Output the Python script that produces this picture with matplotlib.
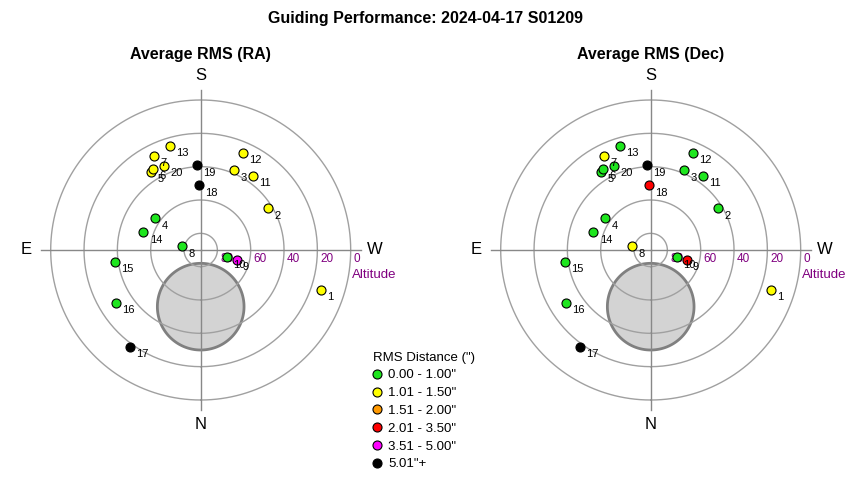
import numpy as np
import matplotlib
matplotlib.use("Agg")
import matplotlib.pyplot as plt
from matplotlib.lines import Line2D

plt.rcParams['font.family'] = ['Liberation Sans', 'DejaVu Sans']

# ---------------- data ----------------
frame_ids = list(range(1, 21))
altitude = [14.0, 42.3, 38.1, 56.8, 34.5, 33.5, 27.0, 78.7, 67.6, 73.8,
            35.7, 26.4, 25.0, 54.0, 37.9, 29.9, 18.1, 51.2, 39.1, 35.1]
azimuth = [288.4, 238.3, 202.9, 124.9, 147.5, 149.8, 153.6, 101.4, 285.5, 285.7,
           215.1, 203.3, 163.6, 107.1, 82.3, 58.1, 36.2, 178.5, 177.7, 156.6]
rms_ra = [1.22, 1.31, 1.18, 0.86, 1.05, 1.09, 1.27, 0.74, 4.12, 0.91,
          1.14, 1.36, 1.21, 0.83, 0.95, 0.88, 5.84, 6.37, 5.52, 1.12]
rms_dec = [1.08, 0.71, 0.64, 0.58, 0.92, 0.87, 1.12, 1.03, 2.46, 0.69,
           0.77, 0.62, 0.81, 0.55, 0.73, 0.66, 5.21, 2.93, 5.67, 0.84]

bin_upper = [1.00, 1.50, 2.00, 3.50, 5.00, np.inf]
bin_labels = ['0.00 - 1.00"', '1.01 - 1.50"', '1.51 - 2.00"',
              '2.01 - 3.50"', '3.51 - 5.00"', '5.01"+']
bin_colors = ['#1ee61e', '#ffff00', '#ff9900', '#ff0000', '#ff00ff', '#000000']

alt_rings = [80, 60, 40, 20, 0]
compass = {'S': 180, 'N': 0, 'E': 90, 'W': 270}
moon_alt, moon_az, moon_radius = 56.0, 0.0, 26.0

title_main = 'Guiding Performance: 2024-04-17 S01209'
panel_titles = ['Average RMS (RA)', 'Average RMS (Dec)']
legend_title = 'RMS Distance (")'


def color_for(v):
    for up, c in zip(bin_upper, bin_colors):
        if v <= up:
            return c
    return bin_colors[-1]


W, H = 850, 480
fig = plt.figure(figsize=(W / 100, H / 100), dpi=100)

centers_px = [(200.7, 250.0), (650.7, 250.0)]
R_px = 150.0


def draw_panel(cx, cy, values, title):
    ax = fig.add_axes([(cx - R_px) / W, (H - cy - R_px) / H, 2 * R_px / W, 2 * R_px / H],
                      projection='polar')
    ax.set_theta_zero_location('S')
    ax.set_theta_direction(-1)
    ax.set_ylim(0, 90)
    ax.set_axis_off()

    # moon / obstruction disc
    zc = 90 - moon_alt
    X0 = zc * np.sin(np.radians(moon_az))
    Y0 = zc * np.cos(np.radians(moon_az))
    t = np.linspace(0, 2 * np.pi, 400)
    Xs = X0 + moon_radius * np.cos(t)
    Ys = Y0 + moon_radius * np.sin(t)
    th = np.unwrap(np.arctan2(Xs, Ys))
    rr = np.hypot(Xs, Ys)
    ax.fill(th, rr, facecolor='#d3d3d3', edgecolor='#808080', lw=2, zorder=1)

    # rings
    tt = np.linspace(0, 2 * np.pi, 361)
    for a in alt_rings:
        ax.plot(tt, np.full_like(tt, 90 - a), color='#a0a0a0', lw=1, zorder=2, clip_on=False)
        ax.annotate(str(a), xy=(np.radians(270), 90 - a), xytext=(2, -2),
                    textcoords='offset points', ha='left', va='top',
                    color='#800080', fontsize=8.5, zorder=3, annotation_clip=False)
    ax.annotate('Altitude', xy=(np.radians(270), 90), xytext=(1.2, -18),
                textcoords='offset points', ha='left', va='center',
                color='#800080', fontsize=9.5, annotation_clip=False)

    # cross lines
    for ang in [0, 90, 180, 270]:
        ax.plot([np.radians(ang)] * 2, [0, 96], color='#888888', lw=1, zorder=2, clip_on=False)

    # compass labels
    for lab, ang in compass.items():
        ax.text(np.radians(ang), 104.5, lab, ha='center', va='center', fontsize=12,
                clip_on=False)

    # points
    for fid, alt, az, v in zip(frame_ids, altitude, azimuth, values):
        ax.plot(np.radians(az), 90 - alt, 'o', ms=6.5, mfc=color_for(v), mec='black',
                mew=0.8, zorder=5, clip_on=False)
        ax.annotate(str(fid), xy=(np.radians(az), 90 - alt), xytext=(4.5, -5.3),
                    textcoords='offset points', ha='left', va='center', fontsize=8,
                    zorder=6, annotation_clip=False)

    fig.text(cx / W, 1 - 55 / H, title, ha='center', va='center', fontsize=11.5,
             fontweight='bold')
    return ax


draw_panel(*centers_px[0], rms_ra, panel_titles[0])
draw_panel(*centers_px[1], rms_dec, panel_titles[1])

fig.text(0.5, 1 - 18 / H, title_main, ha='center', va='center', fontsize=11.5,
         fontweight='bold')

handles = [Line2D([], [], marker='o', ls='none', ms=6.5, mfc=c, mec='black', mew=0.8)
           for c in bin_colors]
fig.legend(handles, bin_labels, title=legend_title, loc='upper left',
           bbox_to_anchor=(370 / W, 1 - 349 / H), frameon=False, fontsize=9.5,
           title_fontsize=9.5, alignment='left', handlelength=0.6, handletextpad=0.6,
           labelspacing=0.42, borderpad=0.2, borderaxespad=0)

fig.savefig('out.png', dpi=100)
